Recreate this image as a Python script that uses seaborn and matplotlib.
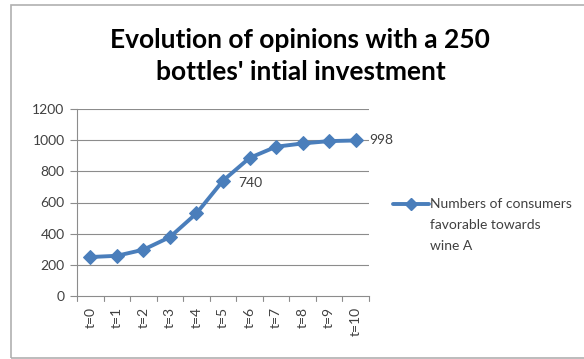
import matplotlib
matplotlib.use("Agg")
import matplotlib.pyplot as plt
import seaborn as sns
import pandas as pd
from matplotlib.patches import Rectangle
from matplotlib.lines import Line2D

# Data: number of consumers favourable towards wine A over time
periods = ["t=0", "t=1", "t=2", "t=3", "t=4", "t=5", "t=6", "t=7", "t=8", "t=9", "t=10"]
consumers = [250, 258, 297, 378, 530, 740, 886, 958, 979, 994, 998]
yticks = [0, 200, 400, 600, 800, 1000, 1200]
series_lines = ["Numbers of consumers", "favorable towards", "wine A"]

df = pd.DataFrame({"period": periods, "consumers": consumers, "pos": range(len(periods))})

sns.set_theme(style="white")
plt.rcParams["font.family"] = ["Lato", "DejaVu Sans"]

line_color = "#4a7ebb"
text_color = "#404040"
grid_color = "#8c8c8c"

fig = plt.figure(figsize=(5.84, 3.59), dpi=100)
W, H = 584, 359
ax = fig.add_axes([77 / W, 1 - 296 / H, (369 - 77) / W, (296 - 109) / H])

sns.lineplot(data=df, x="pos", y="consumers", ax=ax, color=line_color,
             linewidth=2.8, marker="D", markersize=7, markeredgecolor=line_color,
             legend=False)

ax.set_xlim(-0.5, len(periods) - 0.5)
ax.set_ylim(0, 1200)
ax.set_yticks(yticks)
ax.set_yticklabels([str(v) for v in yticks], fontsize=10, color=text_color)
ax.set_xticks(range(len(periods)))
ax.set_xticklabels(periods, rotation=90, fontsize=10, color=text_color)
ax.tick_params(axis="x", length=0, pad=8)
ax.tick_params(axis="y", length=5, width=0.8, color=grid_color, pad=4, left=True)
# category boundary tick marks below the axis
for b in [i - 0.5 for i in range(len(periods) + 1)]:
    ax.plot([b, b], [0, -32], color=grid_color, lw=0.8, clip_on=False)

ax.set_xlabel("")
ax.set_ylabel("")
for v in yticks[1:]:
    ax.axhline(v, color=grid_color, lw=0.8, zorder=0)
ax.spines["top"].set_visible(False)
ax.spines["right"].set_visible(False)
ax.spines["left"].set_color(grid_color)
ax.spines["bottom"].set_color(grid_color)
ax.spines["left"].set_linewidth(0.8)
ax.spines["bottom"].set_linewidth(0.8)

# value labels
ax.annotate(str(consumers[5]), (5, consumers[5]), xytext=(11, -1.5), textcoords="offset points",
            fontsize=10, color=text_color, va="center", ha="left")
ax.annotate(str(consumers[10]), (10, consumers[10]), xytext=(10, 0), textcoords="offset points",
            fontsize=10, color=text_color, va="center", ha="left")

# title
fig.text(300 / W, 1 - 40 / H, "Evolution of opinions with a 250", ha="center", va="center",
         fontsize=19, fontweight="bold", color="#000000")
fig.text(301 / W, 1 - 72 / H, "bottles' intial investment", ha="center", va="center",
         fontsize=19, fontweight="bold", color="#000000")

# legend: line sample with marker, label in three lines
fig.add_artist(Line2D([393 / W, 429 / W], [1 - 204 / H, 1 - 204 / H], color=line_color,
                      lw=2.8, transform=fig.transFigure))
fig.add_artist(Line2D([411 / W], [1 - 204 / H], color=line_color, marker="D", markersize=6,
                      transform=fig.transFigure))
for i, line in enumerate(series_lines):
    fig.text(430 / W, 1 - (204 + 21 * i) / H, line, ha="left", va="center",
             fontsize=10, color=text_color)

# chart frame
fig.patches.append(Rectangle((11 / W, 1 / H), 1.2, 1 - 6 / H, transform=fig.transFigure,
                             fill=False, edgecolor="#b0b0b0", lw=1.2, clip_on=False))

fig.savefig("out.png", dpi=100)
